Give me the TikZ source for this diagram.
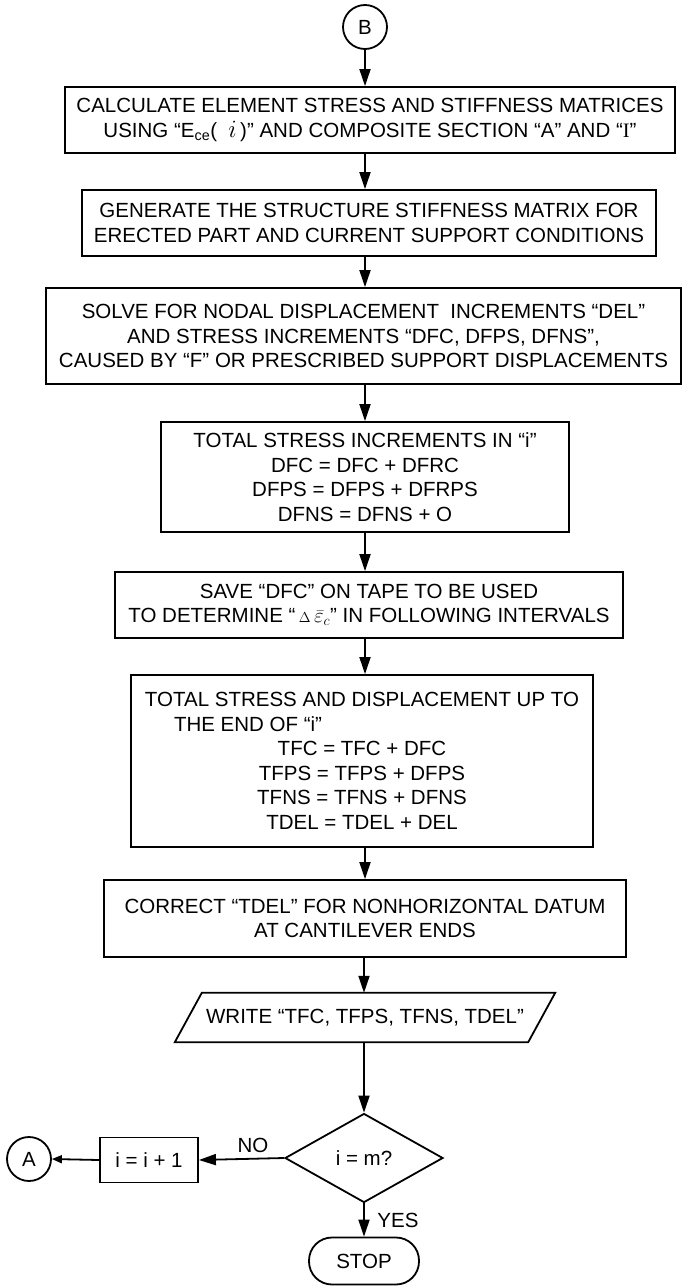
\documentclass[tikz,border=0pt]{standalone}
\usepackage{fontspec}
\setmainfont{Liberation Sans}
\newfontfamily\serifI{Liberation Serif}
\usetikzlibrary{arrows.meta,shapes.geometric}
\newcommand\myiota{{\fontsize{24}{24}\selectfont$i$}}
\newcommand\mydelta{{\fontsize{15}{15}\selectfont$\Delta$}}
\begin{document}
\begin{tikzpicture}[x=1pt,y=-1pt,
  txt/.style={font=\fontsize{20.5}{24.5}\selectfont},
  box/.style={draw, line width=1.8pt, align=center, inner sep=0pt, txt},
  arr/.style={line width=1.8pt, -{Triangle[length=17pt,width=11pt]}},
  arrsmall/.style={line width=1.8pt, -{Triangle[length=10pt,width=8pt]}},
  conn/.style={circle, draw, line width=1.8pt, minimum size=44pt, inner sep=0pt, txt}]
\useasboundingbox (0,0) rectangle (683,1287);

\node[conn] (B) at (365,27) {B};

\node[box, minimum width=610pt, minimum height=66pt] (b1) at (370,120)
  {CALCULATE ELEMENT STRESS AND STIFFNESS MATRICES\\
   USING “E\textsubscript{ce}(\ \ \myiota\,)” AND COMPOSITE SECTION “A” AND “{\serifI I}”};

\node[box, minimum width=574pt, minimum height=66pt] (b2) at (369,223)
  {GENERATE THE STRUCTURE STIFFNESS MATRIX FOR\\
   ERECTED PART AND CURRENT SUPPORT CONDITIONS};

\node[box, minimum width=635pt, minimum height=96pt] (b3) at (363.5,336)
  {SOLVE FOR NODAL DISPLACEMENT\ \ INCREMENTS “DEL”\\
   AND STRESS INCREMENTS “DFC, DFPS, DFNS”,\\
   CAUSED BY “F” OR PRESCRIBED SUPPORT DISPLACEMENTS};

\node[box, minimum width=408pt, minimum height=110pt] (b4) at (365,477)
  {TOTAL STRESS INCREMENTS IN “i”\\
   DFC = DFC + DFRC\\
   DFPS = DFPS + DFRPS\\
   DFNS = DFNS + O};

\node[box, minimum width=508pt, minimum height=66pt] (b5) at (369,605)
  {SAVE “DFC” ON TAPE TO BE USED\\
   TO DETERMINE “\,\mydelta\,$\bar{\varepsilon}_{c}$” IN FOLLOWING INTERVALS};

\node[box, minimum width=462pt, minimum height=172pt] (b6) at (362,761)
  {TOTAL STRESS AND DISPLACEMENT UP TO\\
   \makebox[426pt][l]{\hspace{25pt}THE END OF “i”}\\
   TFC = TFC + DFC\\
   TFPS = TFPS + DFPS\\
   TFNS = TFNS + DFNS\\
   TDEL = TDEL + DEL};

\node[box, minimum width=522pt, minimum height=77pt] (b7) at (365,918.5)
  {CORRECT “TDEL” FOR NONHORIZONTAL DATUM\\
   AT CANTILEVER ENDS};

\node[txt, inner sep=0pt, minimum width=353pt, minimum height=49pt] (wr) at (365,1017.5)
  {WRITE “TFC, TFPS, TFNS, TDEL”};
\draw[line width=1.8pt] ([xshift=-13.5pt]wr.south west) -- ([xshift=13.5pt]wr.north west)
  -- ([xshift=13.5pt]wr.north east) -- ([xshift=-13.5pt]wr.south east) -- cycle;

\node[diamond, draw, line width=1.8pt, aspect=1.78, inner sep=0pt,
  minimum width=158pt, minimum height=89pt, txt] (dia) at (364,1158) {i = m?};

\node[box, minimum width=98pt, minimum height=45pt] (inc) at (149,1160) {i = i + 1};

\node[conn] (A) at (29,1159) {A};

\node[draw, line width=1.8pt, rounded corners=23pt, minimum width=110pt,
  minimum height=47pt, inner sep=0pt, txt] (stop) at (364,1261) {STOP};

\node[txt] (no) at (253,1145) {NO};
\node[txt] (yes) at (398,1220) {YES};

\draw[arr] (B.south) -- (B.south |- b1.north);
\draw[arr] (b1.south -| B) -- (b2.north -| B);
\draw[arr] (b2.south -| B) -- (b3.north -| B);
\draw[arr] (b3.south -| B) -- (b4.north -| B);
\draw[arr] (b4.south -| B) -- (b5.north -| B);
\draw[arr] (b5.south -| B) -- (b6.north -| B);
\draw[arr] (b6.south -| B) -- (b7.north -| B);
\draw[arr] (b7.south -| dia.north) -- (wr.north -| dia.north);
\draw[arr] (wr.south -| dia.north) -- (dia.north);
\draw[arr] (dia.south) -- (stop.north);
\draw[arr] (dia.west) -- (inc.east);
\draw[arrsmall] (inc.west) -- (A.east);
\end{tikzpicture}
\end{document}
